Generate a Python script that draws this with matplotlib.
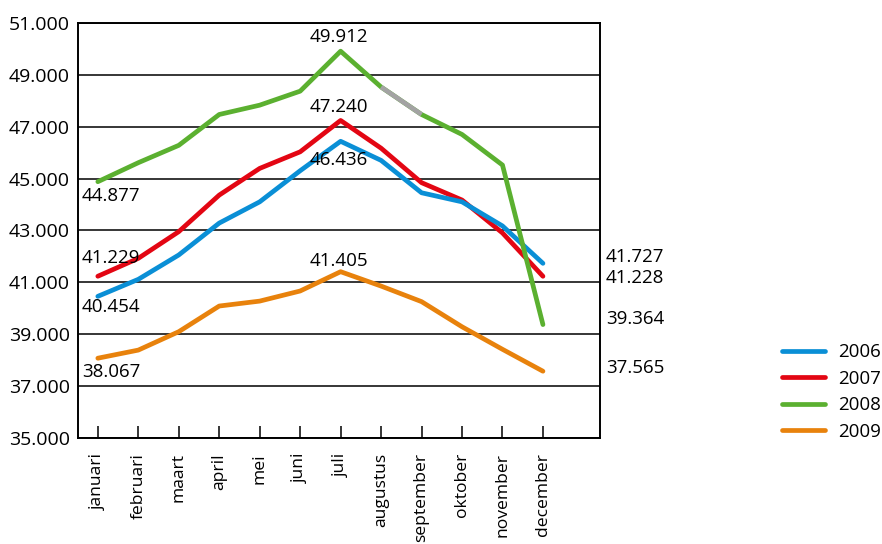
import numpy as np
import matplotlib.pyplot as plt
from matplotlib.ticker import FuncFormatter, FixedLocator

plt.rcParams['font.family'] = ['Open Sans', 'DejaVu Sans']

months = ["januari", "februari", "maart", "april", "mei", "juni", "juli",
          "augustus", "september", "oktober", "november", "december"]

v2006 = [40454, 41110, 42050, 43280, 44100, 45300, 46436, 45700, 44450, 44100, 43170, 41727]
v2007 = [41229, 41920, 42950, 44360, 45390, 46030, 47240, 46170, 44840, 44170, 42900, 41228]
v2008 = [44877, 45610, 46280, 47470, 47830, 48370, 49912, 48530, 47470, 46700, 45520, 39364]
v2009 = [38067, 38380, 39090, 40080, 40270, 40660, 41405, 40850, 40250, 39280, 38410, 37565]

years = ["2006", "2007", "2008", "2009"]
colors = ["#0a8fd6", "#e30613", "#5bb030", "#e8820c"]
zorders = [4, 3, 5, 3]

# (series index, month index, dx px, dy px, ha)
labels = [
    (0, 0, -16, -11, "left"), (1, 0, -16, 18, "left"),
    (2, 0, -16, -14, "left"), (3, 0, -16, -14, "left"),
    (0, 6, -2, -19, "center"), (1, 6, -2, 13, "center"),
    (2, 6, -2, 14, "center"), (3, 6, -2, 11, "center"),
    (0, 11, 63, 6, "left"), (1, 11, 63, -2, "left"),
    (2, 11, 63, 6, "left"), (3, 11, 63, 3, "left"),
]


def dots(v, pos=None):
    return f"{v:,.0f}".replace(",", ".")


fig = plt.figure(figsize=(8.82, 5.44), dpi=100)
ax = fig.add_axes([78 / 882, 106.3 / 544, 522 / 882, 414.7 / 544])

x = np.arange(len(months))
series = [v2006, v2007, v2008, v2009]
for vals, name, c, z in zip(series, years, colors, zorders):
    ax.plot(x, vals, color=c, lw=3.4, label=name, zorder=z,
            solid_capstyle="round", solid_joinstyle="round")

# augustus-september stretch of 2008 in grey
ax.plot(x[7:9], v2008[7:9], color="#a3a3a3", lw=3.4, zorder=6,
        solid_capstyle="butt")

for si, mi, dx, dy, ha in labels:
    val = series[si][mi]
    ax.annotate(dots(val), (x[mi], val), xytext=(dx, dy),
                textcoords="offset pixels", ha=ha, va="center",
                fontsize=13.5, zorder=7)

ax.set_xlim(-0.49, 12.41)
ax.set_ylim(35000, 51000)
ax.yaxis.set_major_locator(FixedLocator(np.arange(35000, 51001, 2000)))
ax.yaxis.set_major_formatter(FuncFormatter(dots))
ax.grid(axis="y", color="black", lw=1.1)
ax.set_axisbelow(True)

ax.set_xticks(x)
ax.set_xticklabels(months, rotation=90, va="top", ha="center")
ax.tick_params(axis="x", direction="in", length=9, width=1.1, pad=11,
               labelsize=12.6)
ax.tick_params(axis="y", length=0, pad=6, labelsize=14)
for s in ax.spines.values():
    s.set_linewidth(1.4)

ax.legend(loc="center left", bbox_to_anchor=(782 / 882, 1 - 392 / 544),
          bbox_transform=fig.transFigure, frameon=False, fontsize=13.5,
          handlelength=2.3, handletextpad=0.7, labelspacing=0.45,
          borderpad=0, borderaxespad=0)

fig.savefig("out.png", dpi=100)
